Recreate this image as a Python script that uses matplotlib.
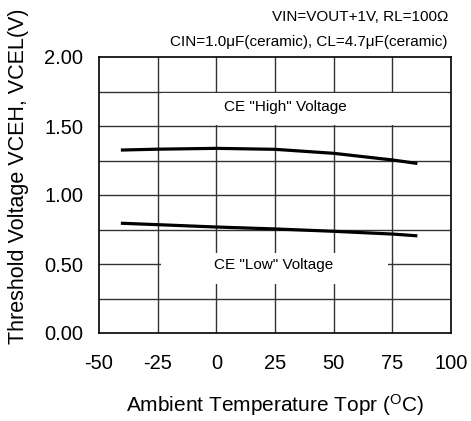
import matplotlib
matplotlib.use("Agg")
import matplotlib.pyplot as plt
from matplotlib.patches import Rectangle
import numpy as np

plt.rcParams['font.family'] = ['Liberation Sans', 'DejaVu Sans']

temps = [-40, -25, 0, 25, 50, 75, 85]
vceh = [1.326, 1.332, 1.338, 1.331, 1.302, 1.254, 1.230]
vcel = [0.795, 0.785, 0.768, 0.754, 0.737, 0.717, 0.705]

xticks = [-50, -25, 0, 25, 50, 75, 100]
yticks = [0.00, 0.50, 1.00, 1.50, 2.00]
ytick_labels = ["0.00", "0.50", "1.00", "1.50", "2.00"]

W, H = 471, 421
fig = plt.figure(figsize=(W / 100, H / 100), dpi=100)
ax = fig.add_axes([99 / W, 1 - 333 / H, (451 - 99) / W, (333 - 57) / H])

ax.set_xlim(-50, 100)
ax.set_ylim(0, 2.0)
for x in xticks[1:-1]:
    ax.axvline(x, color='#333333', lw=1.0, zorder=1)
for y in np.arange(0.25, 2.0, 0.25):
    ax.axhline(y, color='#333333', lw=1.0, zorder=1)

# white label boxes that interrupt the grid
ax.add_patch(Rectangle((-23.6, 1.507), 122.4, 0.233, facecolor='white',
                       edgecolor='none', zorder=2))
ax.add_patch(Rectangle((-23.6, 0.355), 96.9, 0.225, facecolor='white',
                       edgecolor='none', zorder=2))

ax.plot(temps, vceh, color='black', lw=2.3, zorder=3)
ax.plot(temps, vcel, color='black', lw=2.3, zorder=3)

ax.text(29.3, 1.64, 'CE "High" Voltage', ha='center', va='center', fontsize=11, zorder=4)
ax.text(24.6, 0.49, 'CE "Low" Voltage', ha='center', va='center', fontsize=11, zorder=4)

ax.set_xticks(xticks)
ax.set_xticklabels([str(x) for x in xticks])
ax.set_yticks(yticks)
ax.set_yticklabels(ytick_labels)
ax.tick_params(axis='x', length=0, labelsize=14.5, pad=15)
ax.tick_params(axis='y', length=0, labelsize=14.5, pad=11.5)
for s in ax.spines.values():
    s.set_color('black')
    s.set_linewidth(1.2)

ax.set_xlabel('Ambient Temperature Topr ($\\mathregular{^{O}}$C)', fontsize=15, labelpad=14)
fig.text(19 / W, 1 - 176 / H, 'Threshold Voltage VCEH, VCEL(V)', rotation=90,
         ha='center', va='center', fontsize=15.5)

fig.text(448 / W, 1 - 17 / H, 'VIN=VOUT+1V, RL=100Ω', ha='right', va='center', fontsize=11)
fig.text(448 / W, 1 - 42 / H, 'CIN=1.0μF(ceramic), CL=4.7μF(ceramic)', ha='right', va='center', fontsize=11)

fig.savefig('out.png', dpi=100)
